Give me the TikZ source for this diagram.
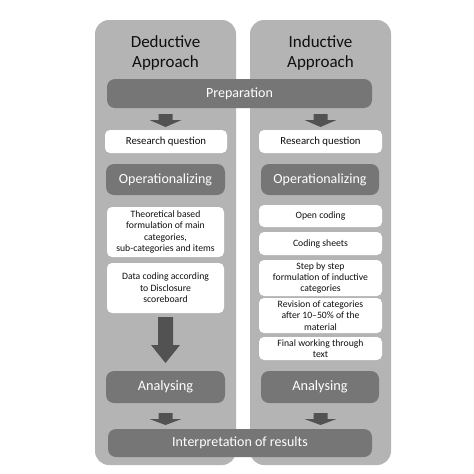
\documentclass[tikz,border=0pt]{standalone}
\usepackage{fontspec}
\setmainfont{Carlito}
\definecolor{panel}{RGB}{180,180,180}
\definecolor{darkbox}{RGB}{118,118,118}
\definecolor{arrowc}{RGB}{82,82,82}
\definecolor{txt}{RGB}{15,15,15}
\begin{document}
\begin{tikzpicture}[x=1pt,y=-1pt,
  panelbox/.style={fill=panel,rounded corners=14pt,draw=none},
  darkbar/.style={fill=darkbox,rounded corners=8pt,draw=none,text=white},
  whitebox/.style={fill=white,rounded corners=5pt,draw=none,text=txt,align=center,font=\fontsize{9.7}{11.4}\selectfont},
  bartext/.style={text=white,font=\fontsize{14}{16}\selectfont},
  arrowfill/.style={fill=arrowc,draw=none}]
\useasboundingbox (0,0) rectangle (474,474);
\fill[white] (0,0) rectangle (474,474);
% panels
\path[panelbox] (95,20) rectangle (236,465);
\path[panelbox] (250,20) rectangle (391,465);
% titles
\node[text=txt,align=center,font=\fontsize{17}{20}\selectfont] (tdl) at (165.5,53) {Deductive\\Approach};
\node[text=txt,align=center,font=\fontsize{17}{20}\selectfont] (tin) at (320.5,53) {Inductive\\Approach};
% preparation
\path[darkbar] (107,79) rectangle (372,108);
\node[bartext] (prep) at (239.5,93.5) {Preparation};
% small arrows
\newcommand{\smallarrow}[3]{%
  \path[arrowfill] (#1-7,#2) -- (#1+7,#2) -- (#1+7,#2+6) -- (#1+16,#2+6) -- (#1,#3) -- (#1-16,#2+6) -- (#1-7,#2+6) -- cycle;}
\smallarrow{165.5}{114}{127}
\smallarrow{320.5}{114}{127}
% research question
\path[whitebox] (105,130) rectangle (227,153);
\node[text=txt,font=\fontsize{10.8}{12}\selectfont] (rq1) at (166,141.5) {Research question};
\path[whitebox] (259,130) rectangle (382,153);
\node[text=txt,font=\fontsize{10.8}{12}\selectfont] (rq2) at (320.5,141.5) {Research question};
% operationalizing
\path[darkbar] (106,164) rectangle (225,195);
\node[bartext] (op1) at (165.5,179.5) {Operationalizing};
\path[darkbar] (261,164) rectangle (379,195);
\node[bartext] (op2) at (320,179.5) {Operationalizing};
% left white boxes
\path[whitebox] (107,207) rectangle (224,257);
\node[whitebox,fill=none] (th) at (165.5,232) {Theoretical based\\formulation of main\\categories,\\sub-categories and items};
\path[whitebox] (107,263) rectangle (224,313);
\node[whitebox,fill=none] (dc) at (165.5,288) {Data coding according\\to Disclosure\\scoreboard};
% big arrow
\path[arrowfill] (158,317) -- (173,317) -- (173,345) -- (180,345) -- (165.5,363) -- (151,345) -- (158,345) -- cycle;
% right white boxes
\path[whitebox] (259,205) rectangle (382,227);
\node[whitebox,fill=none] (oc) at (320.5,216) {Open coding};
\path[whitebox] (259,232) rectangle (382,255);
\node[whitebox,fill=none] (cs) at (320.5,243.5) {Coding sheets};
\path[whitebox] (259,260) rectangle (382,296);
\node[whitebox,fill=none] (sbs) at (320.5,278) {Step by step\\formulation of inductive\\categories};
\path[whitebox] (259,298) rectangle (382,333);
\node[whitebox,fill=none] (rev) at (320.5,315.5) {Revision of categories\\after 10–50\% of the\\material};
\path[whitebox] (259,337) rectangle (382,360);
\node[whitebox,fill=none] (fin) at (320.5,348.5) {Final working through\\text};
% analysing
\path[darkbar] (106,371) rectangle (225,403);
\node[bartext,font=\fontsize{14.3}{16}\selectfont] (an1) at (165.5,387) {Analysing};
\path[darkbar] (261,371) rectangle (379,403);
\node[bartext,font=\fontsize{14.3}{16}\selectfont] (an2) at (320,387) {Analysing};
% small arrows
\smallarrow{165.5}{413}{425}
\smallarrow{320.5}{413}{425}
% interpretation
\path[darkbar] (108,429) rectangle (372,457);
\node[bartext] (int) at (240,443) {Interpretation of results};
\end{tikzpicture}
\end{document}
